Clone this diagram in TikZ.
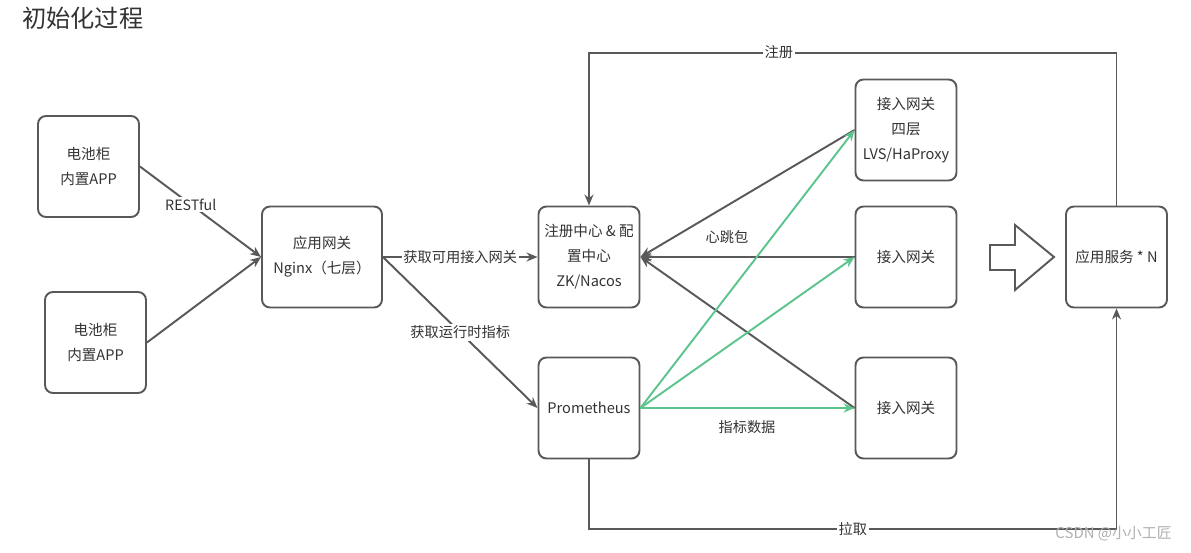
\documentclass[tikz,border=0pt]{standalone}
\usepackage{fontspec}
\setmainfont{Noto Sans CJK SC}
\usetikzlibrary{arrows.meta,positioning}
\definecolor{ink}{HTML}{333333}
\definecolor{edge}{HTML}{595959}
\definecolor{mint}{HTML}{5CC48C}
\definecolor{mark}{HTML}{B0B0B0}
\tikzset{
  box/.style={draw=edge,line width=1.1pt,rounded corners=4.5pt,fill=white,align=center,minimum width=2.02cm,minimum height=2.02cm,inner sep=2pt,font=\fontsize{8.3}{14.2}\selectfont,text=ink},
  plain/.style={align=center,font=\fontsize{8.1}{10}\selectfont,text=ink},
  lbl/.style={plain,fill=white,inner sep=1pt},
  ar/.style={-{Stealth[length=2.2mm,width=1.8mm]},draw=edge,line width=1.1pt},
  arg/.style={ar,draw=mint},
}
\begin{document}
\begin{tikzpicture}[x=0.02cm,y=-0.02cm]
\useasboundingbox (0,0) rectangle (1191,552);
\node[font=\fontsize{13.8}{16}\selectfont,text=ink,anchor=west] (title) at (16,18) {初始化过程};
% boxes
\node[box] (bat1) at (88.5,166.5) {电池柜\\内置APP};
\node[box] (bat2) at (95.5,342.5) {电池柜\\内置APP};
\node[box,minimum width=2.4cm] (ngx) at (322,257) {应用网关\\Nginx（七层）};
\node[box] (reg) at (589,257) {注册中心 \& 配\\置中心\\ZK/Nacos};
\node[box] (prom) at (589,408) {Prometheus};
\node[box] (gw1) at (906,130) {接入网关\\四层\\LVS/HaProxy};
\node[box] (gw2) at (906,257) {接入网关};
\node[box] (gw3) at (906,408) {接入网关};
\node[box] (app) at (1116.5,257) {应用服务 * N};
% big arrow
\draw[edge,line width=1.1pt,line join=miter] (990,245) -- (1015,245) -- (1015,225) -- (1054,257) -- (1015,290) -- (1015,270) -- (990,270) -- cycle;
% connectors
\draw[ar] (bat1.east) -- node[lbl,pos=0.42] {RESTful} (ngx.west);
\draw[ar] (bat2.east) -- (ngx.west);
\draw[ar] (ngx.east) -- node[lbl] {获取可用接入网关} (reg.west);
\draw[ar] (ngx.east) -- node[lbl] {获取运行时指标} (prom.west);
\draw[ar] (app.north) -- ++(0,-153) -| node[lbl,pos=0.32] {注册} (reg.north);
\draw[ar] (prom.south) -- ++(0,70) -| node[lbl,pos=0.25] {拉取} (app.south);
\draw[ar] (gw1.west) -- (reg.east);
\draw[ar] (gw2.west) -- (reg.east);
\draw[ar] (gw3.west) -- (reg.east);
\draw[arg] (prom.east) -- (gw1.west);
\draw[arg] (prom.east) -- (gw2.west);
\draw[arg] (prom.east) -- (gw3.west);
\node[plain] (hb) at (727,237) {心跳包};
\node[plain] (md) at (747,427) {指标数据};
\node[font=\fontsize{8.5}{10}\selectfont,text=mark,anchor=east] (wm) at (1178,534) {CSDN @小小工匠};
\end{tikzpicture}
\end{document}
